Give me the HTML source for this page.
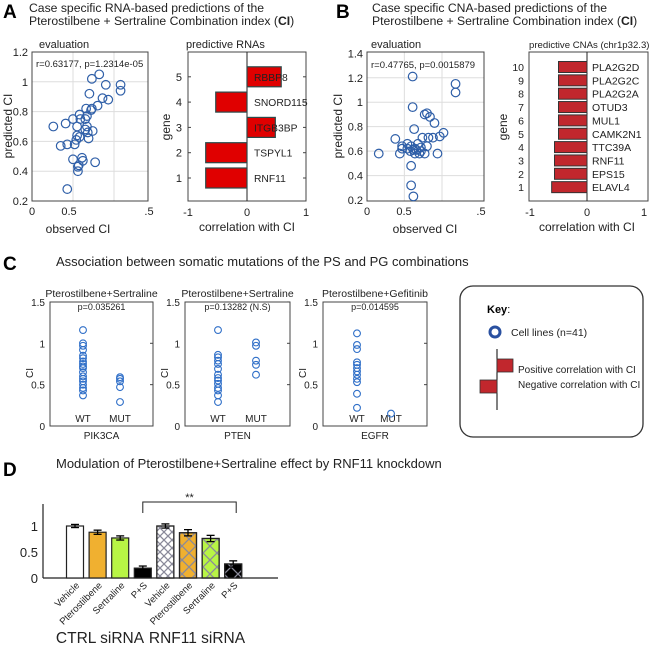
<!DOCTYPE html>
<html><head><meta charset="utf-8">
<style>
html,body{margin:0;padding:0;background:#fff;}
svg{display:block;font-family:"Liberation Sans",sans-serif;}
</style></head>
<body>
<svg id="fig" width="650" height="645" viewBox="0 0 650 645" xmlns="http://www.w3.org/2000/svg">
<defs>
<pattern id="hatch" patternUnits="userSpaceOnUse" width="8" height="8">
<path d="M0,0 L8,8 M8,0 L0,8" stroke="#8a8a9a" stroke-width="1.3"/>
</pattern>
<pattern id="hatch2" patternUnits="userSpaceOnUse" width="14" height="14">
<path d="M0,0 L14,14 M14,0 L0,14" stroke="#8a8a9a" stroke-width="1.3"/>
</pattern>
</defs>
<!-- Panel labels & titles -->
<text x="3" y="18" font-size="19" font-weight="bold">A</text>
<text x="29" y="12" font-size="12.2" fill="#222">Case specific RNA-based predictions of the</text>
<text x="29" y="25" font-size="12.2" fill="#222">Pterostilbene + Sertraline Combination index (<tspan font-weight="bold">CI</tspan>)</text>
<text x="336" y="18" font-size="19" font-weight="bold">B</text>
<text x="372" y="12" font-size="12.2" fill="#222">Case specific CNA-based predictions of the</text>
<text x="372" y="25" font-size="12.2" fill="#222">Pterostilbene + Sertraline Combination index (<tspan font-weight="bold">CI</tspan>)</text>
<text x="3" y="270" font-size="19" font-weight="bold">C</text>
<text x="56" y="266" font-size="13" fill="#222">Association between somatic mutations of the PS and PG combinations</text>
<text x="3" y="476" font-size="19" font-weight="bold">D</text>
<text x="56" y="468" font-size="13" fill="#222">Modulation of Pterostilbene+Sertraline effect by RNF11 knockdown</text>

<!-- Key -->
<g>
<rect x="460" y="286" width="183" height="151" rx="13" fill="#fff" stroke="#333" stroke-width="1.3"/>
<text x="487" y="313" font-size="11" font-weight="bold">Key<tspan font-weight="normal">:</tspan></text>
<circle cx="495" cy="332" r="5" fill="none" stroke="#2a50a0" stroke-width="3"/>
<text x="511" y="336" font-size="10.5" fill="#222">Cell lines (n=41)</text>
<line x1="497" y1="349" x2="497" y2="410" stroke="#000" stroke-width="1"/>
<rect x="497" y="359" width="16" height="13" fill="#c1272d" stroke="#333" stroke-width="0.8"/>
<rect x="480" y="380" width="17" height="13" fill="#c1272d" stroke="#333" stroke-width="0.8"/>
<text x="518" y="373" font-size="10" fill="#222">Positive correlation with CI</text>
<text x="518" y="388" font-size="10" fill="#222">Negative correlation with CI</text>
</g>
</svg>
<script>
// ---------- data ----------
const aScatterX = [0.26,0.35,0.41,0.43,0.43,0.50,0.50,0.52,0.54,0.55,0.55,0.56,0.56,0.57,0.58,0.59,0.58,0.61,0.62,0.65,0.66,0.67,0.67,0.68,0.69,0.70,0.72,0.73,0.74,0.77,0.80,0.82,0.86,0.90,0.93,1.08,1.08,0.73,0.65];
const aScatterY = [0.70,0.57,0.72,0.58,0.28,0.75,0.48,0.58,0.61,0.64,0.70,0.43,0.40,0.44,0.78,0.75,0.63,0.49,0.47,0.75,0.82,0.77,0.70,0.66,0.62,0.92,0.81,1.02,0.67,0.46,0.84,1.05,0.89,0.98,0.88,0.98,0.94,0.82,0.68];
const aGenes = ["RNF11","TSPYL1","ITGB3BP","SNORD115","RBBP8"];
const aCorr = [-0.70,-0.70,0.48,-0.53,0.58];
const bScatterX = [0.16,0.38,0.44,0.47,0.47,0.54,0.59,0.61,0.61,0.59,0.59,0.62,0.63,0.62,0.64,0.68,0.70,0.72,0.74,0.77,0.77,0.80,0.80,0.82,0.84,0.88,0.90,0.94,0.97,1.02,1.18,1.18,0.58,0.54,0.66,0.72,0.64];
const bScatterY = [0.58,0.70,0.58,0.64,0.62,0.62,0.64,1.21,0.96,0.48,0.32,0.23,0.78,0.61,0.58,0.66,0.58,0.63,0.71,0.58,0.90,0.91,0.64,0.71,0.88,0.71,0.83,0.58,0.72,0.75,1.15,1.08,0.60,0.66,0.61,0.60,0.62];
const bGenes = ["ELAVL4","EPS15","RNF11","TTC39A","CAMK2N1","MUL1","OTUD3","PLA2G2A","PLA2G2C","PLA2G2D"];
const bCorr = [-0.62,-0.57,-0.57,-0.57,-0.50,-0.50,-0.50,-0.50,-0.50,-0.50];
const cTitles = ["Pterostilbene+Sertraline","Pterostilbene+Sertraline","Pterostilbene+Gefitinib"];
const cPvals = ["p=0.035261","p=0.13282  (N.S)","p=0.014595"];
const cGenes = ["PIK3CA","PTEN","EGFR"];
const cWT = [
 [1.16,1.0,0.97,0.92,0.85,0.82,0.78,0.75,0.72,0.70,0.65,0.60,0.57,0.54,0.50,0.46,0.43,0.37],
 [1.16,0.86,0.83,0.79,0.75,0.69,0.62,0.58,0.55,0.51,0.46,0.43,0.37,0.29],
 [1.12,0.98,0.93,0.77,0.74,0.70,0.66,0.62,0.57,0.53,0.39,0.22]];
const cMUT = [[0.59,0.57,0.54,0.47,0.29],[1.01,0.97,0.79,0.74,0.62],[0.15]];
const dLabels = ["Vehicle","Pterostilbene","Sertraline","P+S","Vehicle","Pterostilbene","Sertraline","P+S"];
const dValues = [1.0,0.88,0.77,0.19,1.0,0.87,0.76,0.27];
const dErrors = [0.03,0.04,0.04,0.04,0.04,0.06,0.06,0.06];

// ---------- helpers ----------
const NS="http://www.w3.org/2000/svg";
const svg=document.getElementById('fig');
function el(tag,attrs,parent){const e=document.createElementNS(NS,tag);for(const k in attrs)e.setAttribute(k,attrs[k]);(parent||svg).appendChild(e);return e;}
function txt(x,y,s,size,anchor,parent,extra){const t=el('text',Object.assign({x:x,y:y,'font-size':size,'text-anchor':anchor||'start',fill:'#222'},extra||{}),parent);t.textContent=s;return t;}

// ---------- Panel A scatter ----------
(function(){
 const g=el('g',{});
 
 
 const L=32,R=148,T=52,B=201;
 const xs=v=>32+82*v, ys=v=>52+(1.2-v)*149;
 [0.4,0.6,0.8,1.0].forEach(v=>el('line',{x1:L,x2:R,y1:ys(v),y2:ys(v),stroke:'#ddd'},g));
 [0.5,1.0].forEach(v=>el('line',{x1:xs(v),x2:xs(v),y1:T,y2:B,stroke:'#ddd'},g));
 el('rect',{x:L,y:T,width:R-L,height:B-T,fill:'none',stroke:'#444'},g);
 [0.2,0.4,0.6,0.8,1,1.2].forEach(v=>txt(28,ys(v)+4,String(v),11,'end',g));
 txt(32,215,'0',11,'middle',g);txt(69,215,'0.5',11,'middle',g);txt(149,215,'.5',11,'middle',g);
 txt(39,48,'evaluation',11,'start',g);
 txt(36,67,'r=0.63177, p=1.2314e-05',9.5,'start',g);
 txt(78,233,'observed CI',12,'middle',g);
 txt(0,0,'predicted CI',12,'middle',g,{transform:'translate(12,126) rotate(-90)'});
 for(let i=0;i<aScatterX.length;i++){
  const c=el('circle',{cx:xs(aScatterX[i]),cy:ys(aScatterY[i]),r:4.3,fill:'none',stroke:'#2f5fa8','stroke-width':1.2},g);
  
  
 }
})();

// ---------- Panel A bars ----------
(function(){
 const g=el('g',{});
 
 
 const L=188,R=306,T=52,B=201;
 const xs=v=>247+59*v, ys=k=>203.3-25.3*k;
 el('rect',{x:L,y:T,width:R-L,height:B-T,fill:'none',stroke:'#444'},g);
 el('line',{x1:xs(0),x2:xs(0),y1:T,y2:B,stroke:'#222'},g);
 txt(186,48,'predictive RNAs',11,'start',g);
 txt(188,216,'-1',11,'middle',g);txt(247,216,'0',11,'middle',g);txt(306,216,'1',11,'middle',g);
 txt(247,231,'correlation with CI',12,'middle',g);
 txt(0,0,'gene',12,'middle',g,{transform:'translate(170,127) rotate(-90)'});
 for(let i=0;i<aGenes.length;i++){
  const y=ys(i+1), v=aCorr[i];
  txt(182,y+4,String(i+1),11,'end',g);
  el('line',{x1:L,x2:L+3,y1:y,y2:y,stroke:'#444'},g);
  el('line',{x1:R-3,x2:R,y1:y,y2:y,stroke:'#444'},g);
  const r=el('rect',{x:Math.min(xs(0),xs(v)),y:y-10,width:Math.abs(xs(v)-xs(0)),height:20,fill:'#e00000',stroke:'#2c4a4a','stroke-width':1.2},g);
  
  
  txt(254,y+4,aGenes[i],10.3,'start',g);
 }
})();

// ---------- Panel B scatter ----------
(function(){
 const g=el('g',{});
 
 
 const L=367,R=484,T=52,B=201;
 const xs=v=>366.7+75.3*v, ys=v=>53.3+(1.4-v)*122.3;
 [0.4,0.6,0.8,1.0,1.2].forEach(v=>el('line',{x1:L,x2:R,y1:ys(v),y2:ys(v),stroke:'#ddd'},g));
 [0.5,1.0].forEach(v=>el('line',{x1:xs(v),x2:xs(v),y1:T,y2:B,stroke:'#ddd'},g));
 el('rect',{x:L,y:T,width:R-L,height:B-T,fill:'none',stroke:'#444'},g);
 [0.2,0.4,0.6,0.8,1,1.2,1.4].forEach(v=>txt(363,ys(v)+4,String(v),11,'end',g));
 txt(367,215,'0',11,'middle',g);txt(404,215,'0.5',11,'middle',g);txt(481,215,'.5',11,'middle',g);
 txt(371,48,'evaluation',11,'start',g);
 txt(371,68,'r=0.47765, p=0.0015879',9.5,'start',g);
 txt(425,233,'observed CI',12,'middle',g);
 txt(0,0,'predicted CI',12,'middle',g,{transform:'translate(342,126) rotate(-90)'});
 for(let i=0;i<bScatterX.length;i++){
  const c=el('circle',{cx:xs(bScatterX[i]),cy:ys(bScatterY[i]),r:4.3,fill:'none',stroke:'#2f5fa8','stroke-width':1.2},g);
  
  
 }
})();

// ---------- Panel B bars ----------
(function(){
 const g=el('g',{});
 
 
 const L=529,R=648,T=52,B=201;
 const xs=v=>587+57*v, ys=k=>200.5-13.35*k;
 el('rect',{x:L,y:T,width:R-L,height:B-T,fill:'none',stroke:'#444'},g);
 el('line',{x1:xs(0),x2:xs(0),y1:T,y2:B,stroke:'#222'},g);
 txt(529,48,'predictive CNAs (chr1p32.3)',9.6,'start',g);
 txt(530,216,'-1',11,'middle',g);txt(587,216,'0',11,'middle',g);txt(644,216,'1',11,'middle',g);
 txt(587,231,'correlation with CI',12,'middle',g);
 txt(0,0,'gene',12,'middle',g,{transform:'translate(507,127) rotate(-90)'});
 for(let i=0;i<bGenes.length;i++){
  const y=ys(i+1), v=bCorr[i];
  txt(524,y+4,String(i+1),10.5,'end',g);
  const r=el('rect',{x:Math.min(xs(0),xs(v)),y:y-5.5,width:Math.abs(xs(v)-xs(0)),height:11,fill:'#c1272d',stroke:'#333','stroke-width':1},g);
  
  
  txt(592,y+4,bGenes[i],10.5,'start',g);
 }
})();

// ---------- Panel C ----------
(function(){
 const boxes=[[50,153],[185,290],[323,427]];
 const wtX=[83,218,357], mutX=[120,256,391];
 const T=302,B=426, ys=v=>426-v*82.7;
 for(let p=0;p<3;p++){
  const g=el('g',{});
  
  
  const [L,R]=boxes[p];
  el('rect',{x:L,y:T,width:R-L,height:B-T,fill:'none',stroke:'#444'},g);
  [0,0.5,1,1.5].forEach(v=>{txt(L-5,ys(v)+4,String(v),10,'end',g);el('line',{x1:R-3,x2:R,y1:ys(v),y2:ys(v),stroke:'#444'},g);});
  txt((L+R)/2,297,cTitles[p],10.5,'middle',g);
  txt((L+R)/2,310,cPvals[p],9,'middle',g);
  txt(0,0,'CI',10,'middle',g,{transform:'translate('+(L-17)+',373) rotate(-90)'});
  txt(wtX[p],422,'WT',10,'middle',g);
  txt(mutX[p],422,'MUT',10,'middle',g);
  txt((L+R)/2,439,cGenes[p],10,'middle',g);
  cWT[p].forEach(v=>{const c=el('circle',{cx:wtX[p],cy:ys(v),r:3.4,fill:'none',stroke:'#2f6fc8','stroke-width':1.1},g);
   
   });
  cMUT[p].forEach(v=>{const c=el('circle',{cx:mutX[p],cy:ys(v),r:3.4,fill:'none',stroke:'#2f6fc8','stroke-width':1.1},g);
   
   });
 }
})();

// ---------- Panel D ----------
(function(){
 const g=el('g',{});
 
 
 const ys=v=>578-52*v, xc=i=>75+22.6*i;
 const fills=['#ffffff','#f0b030','#b8f545','#000000'];
 el('line',{x1:43,x2:43,y1:504,y2:578,stroke:'#222','stroke-width':1.2},g);
 el('line',{x1:43,x2:278,y1:578,y2:578,stroke:'#222','stroke-width':1.2},g);
 [0,0.5,1].forEach(v=>txt(38,ys(v)+5,String(v),13,'end',g));
 for(let i=0;i<dValues.length;i++){
  const x=xc(i), w=17, v=dValues[i];
  const r=el('rect',{x:x-w/2,y:ys(v),width:w,height:578-ys(v),fill:fills[i%4],stroke:'#222','stroke-width':1.2},g);
  
  
  if(i>=4){el('rect',{x:x-w/2,y:ys(v),width:w,height:578-ys(v),fill:(i===4?'url(#hatch)':'url(#hatch2)'),stroke:'#222','stroke-width':1.2},g);}
  const e=dErrors[i];
  el('line',{x1:x,x2:x,y1:ys(v+e),y2:ys(v-e),stroke:'#000','stroke-width':1.3},g);
  el('line',{x1:x-4,x2:x+4,y1:ys(v+e),y2:ys(v+e),stroke:'#000','stroke-width':1.3},g);
  el('line',{x1:x-4,x2:x+4,y1:ys(v-e),y2:ys(v-e),stroke:'#000','stroke-width':1.3},g);
  txt(0,0,dLabels[i],9.5,'end',g,{transform:'translate('+(x+5)+',586) rotate(-45)'});
 }
 const x1=xc(3), x2=xc(7)+3;
 el('path',{d:'M'+x1+',513 L'+x1+',502 L'+x2+',502 L'+x2+',513',fill:'none',stroke:'#222','stroke-width':1},g);
 txt((x1+x2)/2,501,'**',11,'middle',g);
 txt(100,643,'CTRL siRNA',15.5,'middle',g);
 txt(197,643,'RNF11 siRNA',15.5,'middle',g);
})();
</script>
</body></html>
